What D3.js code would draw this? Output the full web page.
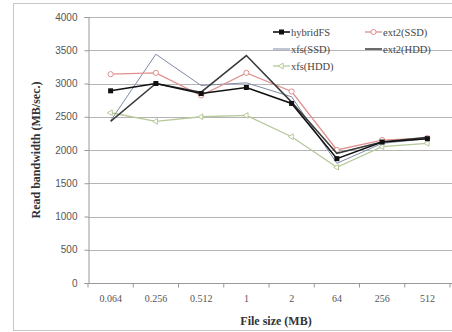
<!DOCTYPE html>
<html>
<head>
<meta charset="utf-8">
<script src="https://cdn.jsdelivr.net/npm/d3@7"></script>
<style>
  body { margin: 0; background: #fff; }
  svg { font-family: "Liberation Serif", "DejaVu Serif", serif; }
</style>
</head>
<body>
<svg id="chart" width="452" height="332"></svg>
<script>
// file sizes on the x axis
var fileSizes = ["0.064", "0.256", "0.512", "1", "2", "64", "256", "512"];
var yTicks = [0, 500, 1000, 1500, 2000, 2500, 3000, 3500, 4000];

// read bandwidth, MB/sec
var hybridFS = [2890, 3000, 2850, 2940, 2700, 1870, 2120, 2170];
var ext2SSD  = [3140, 3160, 2820, 3160, 2880, 2000, 2150, 2180];
var xfsSSD   = [2440, 3440, 2970, 3010, 2800, 1800, 2100, 2170];
var ext2HDD  = [2430, 3000, 2870, 3420, 2720, 1950, 2120, 2190];
var xfsHDD   = [2560, 2430, 2500, 2520, 2200, 1740, 2050, 2100];

var series = [
  {name: "xfs(HDD)",  values: xfsHDD,   color: "#b7c99a", width: 1.3, marker: "tri"},
  {name: "xfs(SSD)",  values: xfsSSD,   color: "#7f8aa8", width: 1,   marker: null},
  {name: "ext2(SSD)", values: ext2SSD,  color: "#e0908f", width: 1.3, marker: "circle"},
  {name: "ext2(HDD)", values: ext2HDD,  color: "#3a3a3a", width: 1.5, marker: null},
  {name: "hybridFS",  values: hybridFS, color: "#111",    width: 1.6, marker: "square"}
];

var svg = d3.select("#chart");
var margin = {left: 88, top: 17, right: 2, bottom: 49};
var W = 452, H = 332;

// outer chart frame
svg.append("rect")
  .attr("x", 13.5).attr("y", 3.5)
  .attr("width", 460).attr("height", 327)
  .attr("fill", "none").attr("stroke", "#c8c8c8");

var x = d3.scalePoint()
  .domain(fileSizes)
  .range([margin.left, W - margin.right])
  .padding(0.5);

var y = d3.scaleLinear()
  .domain([0, 4000])
  .range([H - margin.bottom, margin.top]);

// gridlines
svg.append("g")
  .selectAll("line")
  .data(yTicks.filter(function(d) { return d > 0; }))
  .enter().append("line")
  .attr("x1", margin.left).attr("x2", W)
  .attr("y1", function(d) { return Math.round(y(d)) + 0.5; })
  .attr("y2", function(d) { return Math.round(y(d)) + 0.5; })
  .attr("stroke", "#b4b4b4").attr("stroke-width", 1.2);

// y axis
var yAxis = svg.append("g")
  .attr("transform", "translate(" + (margin.left + 0.5) + ",0)")
  .call(d3.axisLeft(y).tickValues(yTicks).tickSize(4).tickPadding(7).tickFormat(d3.format("d")));
yAxis.selectAll("text").attr("fill", "#555").style("font-size", "10px");
yAxis.selectAll("line, path").attr("stroke", "#999");

// x axis, ticks between categories
var step = x.step();
var xAxis = svg.append("g")
  .attr("transform", "translate(0," + (Math.round(y(0)) + 0.5) + ")");
xAxis.append("line")
  .attr("x1", margin.left).attr("x2", W)
  .attr("stroke", "#999");
xAxis.selectAll("line.tk")
  .data(d3.range(fileSizes.length + 1))
  .enter().append("line")
  .attr("class", "tk")
  .attr("x1", function(i) { return margin.left + i * step; })
  .attr("x2", function(i) { return margin.left + i * step; })
  .attr("y1", 0).attr("y2", 4)
  .attr("stroke", "#999");
xAxis.selectAll("text")
  .data(fileSizes)
  .enter().append("text")
  .attr("x", function(d) { return x(d); })
  .attr("y", 18)
  .attr("text-anchor", "middle")
  .attr("fill", "#555")
  .style("font-size", "10px")
  .text(function(d) { return d; });

// axis titles
svg.append("text")
  .attr("x", 276).attr("y", 325)
  .attr("text-anchor", "middle")
  .style("font-size", "12px").style("font-weight", "bold")
  .attr("fill", "#333")
  .text("File size (MB)");

svg.append("text")
  .attr("transform", "translate(40," + ((margin.top + H - margin.bottom) / 2) + ") rotate(-90)")
  .attr("text-anchor", "middle")
  .style("font-size", "12px").style("font-weight", "bold")
  .attr("fill", "#333")
  .text("Read bandwidth (MB/sec.)");

var line = d3.line()
  .x(function(d, i) { return x(fileSizes[i]); })
  .y(function(d) { return y(d); });

function drawMarker(g, type, color) {
  if (type === "square") {
    g.append("rect").attr("x", -2.5).attr("y", -2.5).attr("width", 5).attr("height", 5).attr("fill", color);
  } else if (type === "circle") {
    g.append("circle").attr("r", 2.6).attr("fill", "#fff").attr("stroke", color).attr("stroke-width", 1);
  } else if (type === "tri") {
    g.append("path").attr("d", d3.symbol(d3.symbolTriangle, 14)()).attr("fill", "#fff")
      .attr("stroke", color).attr("stroke-width", 1).attr("transform", "rotate(-90)");
  }
}

series.forEach(function(s) {
  var g = svg.append("g");
  g.append("path")
    .datum(s.values)
    .attr("d", line)
    .attr("fill", "none")
    .attr("stroke", s.color)
    .attr("stroke-width", s.width);
  if (s.marker) {
    s.values.forEach(function(v, i) {
      var m = g.append("g").attr("transform", "translate(" + x(fileSizes[i]) + "," + y(v) + ")");
      drawMarker(m, s.marker, s.color);
    });
  }
});

// legend
var legendItems = [
  {s: series[4], lx: 273, ly: 32},
  {s: series[2], lx: 365, ly: 32},
  {s: series[1], lx: 273, ly: 49},
  {s: series[3], lx: 365, ly: 49},
  {s: series[0], lx: 273, ly: 66}
];
var legend = svg.append("g");
legendItems.forEach(function(it) {
  var g = legend.append("g").attr("transform", "translate(" + it.lx + "," + it.ly + ")");
  g.append("line").attr("x1", 0).attr("x2", 17).attr("stroke", it.s.color).attr("stroke-width", it.s.width);
  if (it.s.marker) {
    var m = g.append("g").attr("transform", "translate(8.5,0)");
    drawMarker(m, it.s.marker, it.s.color);
  }
  g.append("text").attr("x", 18).attr("y", 3.5)
    .style("font-size", "10.5px").attr("fill", "#444")
    .text(it.s.name);
});
</script>
</body>
</html>
